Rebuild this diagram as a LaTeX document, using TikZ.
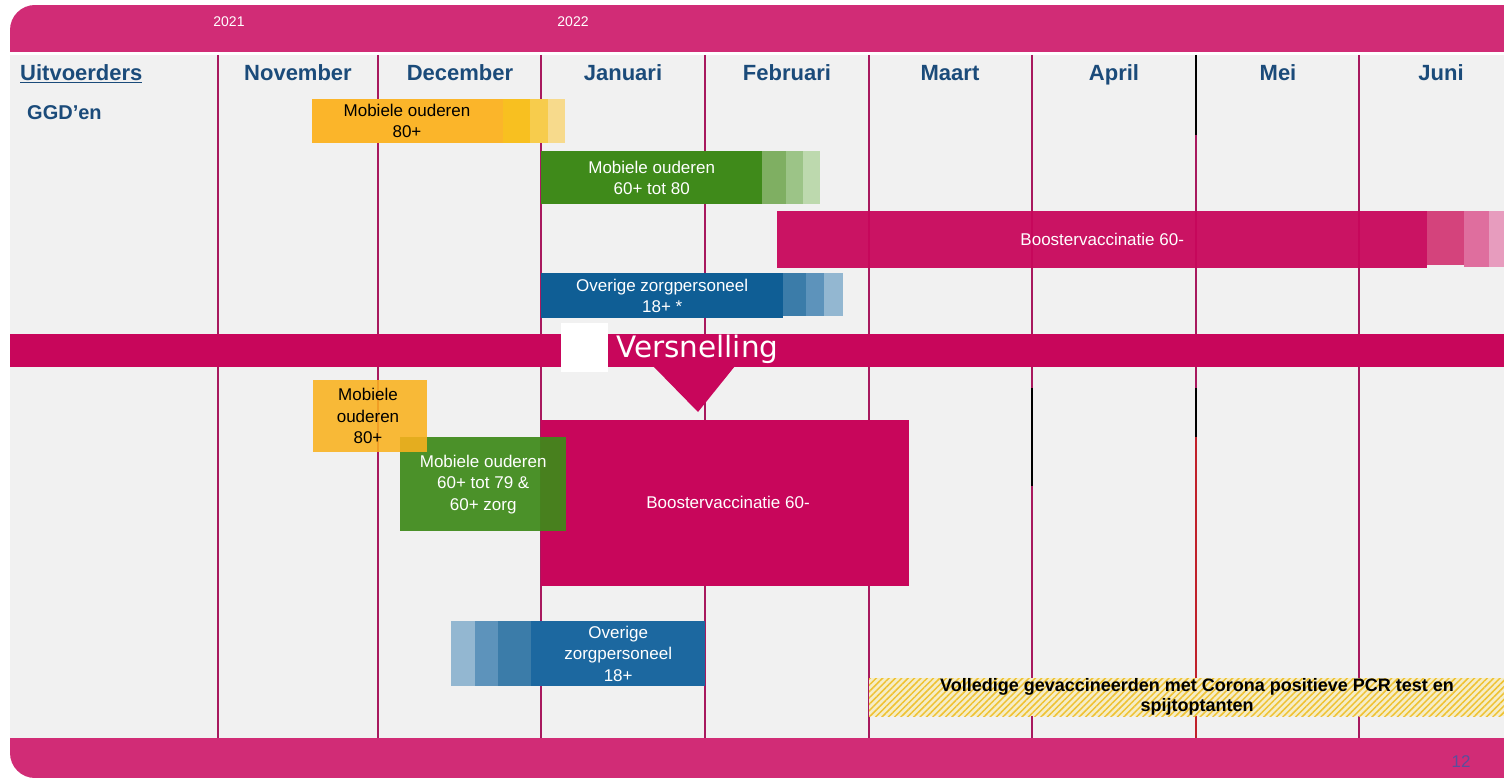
\documentclass[tikz,border=0pt]{standalone}
\usepackage{fontspec}
\setmainfont{Liberation Sans}
\newfontfamily\versfont{DejaVu Sans}
\usetikzlibrary{patterns.meta}
\definecolor{topbar}{HTML}{D12C76}
\definecolor{mag}{HTML}{C8065B}
\definecolor{vline}{HTML}{A8195E}
\definecolor{bggrey}{HTML}{F1F1F1}
\definecolor{navy}{HTML}{1B4B7A}
\definecolor{orng}{HTML}{FBB52A}
\definecolor{orngA}{HTML}{F8C020}
\definecolor{orngB}{HTML}{F7CC4C}
\definecolor{orngC}{HTML}{F7DA8C}
\definecolor{orng2}{HTML}{FAB21E}
\definecolor{grn}{HTML}{3F8A1A}
\definecolor{grnA}{HTML}{7FAF62}
\definecolor{grnB}{HTML}{9CC487}
\definecolor{grnC}{HTML}{BDD9AE}
\definecolor{blu}{HTML}{0F5E95}
\definecolor{bluA}{HTML}{3B7CA9}
\definecolor{bluB}{HTML}{5D93BB}
\definecolor{bluC}{HTML}{93B7D1}
\definecolor{lblu}{HTML}{1C68A0}
\definecolor{magA}{HTML}{D4437C}
\definecolor{magB}{HTML}{DF6E9E}
\definecolor{magC}{HTML}{E79CBE}
\definecolor{hatch}{HTML}{EFC232}
\definecolor{hatchbg}{HTML}{F5EDC8}
\definecolor{pagenum}{HTML}{5B4E9C}
\definecolor{redline}{HTML}{C0202A}
\begin{document}
\begin{tikzpicture}[x=1pt,y=-1pt,
  month/.style={font=\fontsize{22}{24}\selectfont\bfseries, text=navy, inner sep=0, anchor=base},
  bar/.style={anchor=north west, inner sep=0, align=center, font=\fontsize{17}{21.5}\selectfont},
  whitetxt/.style={text=white},
  vl/.style={draw=vline, line width=1.8pt},
]
\useasboundingbox (0,0) rectangle (1504,778);
\fill[white] (0,0) rectangle (1504,778);
\fill[bggrey] (10,55) rectangle (1504,738);
% top bar
\begin{scope}
  \clip[rounded corners=25pt] (10,5) rectangle (1700,300);
  \fill[topbar] (10,5) rectangle (1504,52);
\end{scope}
% bottom bar
\begin{scope}
  \clip[rounded corners=25pt] (10,500) rectangle (1700,778);
  \fill[topbar] (10,738) rectangle (1504,778);
\end{scope}
\node[text=white, font=\fontsize{14}{16}\selectfont, inner sep=0] (y2021) at (229,22) {2021};
\node[text=white, font=\fontsize{14}{16}\selectfont, inner sep=0] (y2022) at (573,22) {2022};
\node[text=pagenum, font=\fontsize{17}{19}\selectfont, inner sep=0] (page) at (1461,762) {12};
% vertical lines
\foreach \x in {218,378,541,705,869,1032,1196,1359}
  \draw[vl] (\x,55) -- (\x,738);
\draw[line width=1.8pt, black] (1196,55) -- (1196,135);
\draw[line width=1.8pt, black] (1032,388) -- (1032,486);
\draw[line width=1.8pt, black] (1196,388) -- (1196,437);
\draw[line width=1.8pt, redline] (1196,437) -- (1196,738);
% headers
\node[month, anchor=base west] (uitv) at (20,81) {\underline{Uitvoerders}};
\node[month, anchor=base west, font=\fontsize{20}{22}\selectfont\bfseries] (ggd) at (27,120) {GGD’en};
\node[month] (nov) at (298,81) {November};
\node[month] (dec) at (460,81) {December};
\node[month] (jan) at (623,81) {Januari};
\node[month] (feb) at (787,81) {Februari};
\node[month] (mrt) at (950,81) {Maart};
\node[month] (apr) at (1114,81) {April};
\node[month] (mei) at (1278,81) {Mei};
\node[month] (jun) at (1441,81) {Juni};
% upper orange
\fill[orngC] (530,99) rectangle (565,143);
\fill[orngB] (515,99) rectangle (548,143);
\fill[orngA] (503,99) rectangle (530,143);
\node[bar, fill=orng, minimum width=191pt, minimum height=44pt] (ob1) at (312,99) {};
\node[font=\fontsize{17}{21.5}\selectfont, align=center, inner sep=0] (ob1t) at (407,121) {Mobiele ouderen\\80+};
% upper green
\fill[grnC] (803,151) rectangle (820,204);
\fill[grnB] (786,151) rectangle (803,204);
\fill[grnA] (762,151) rectangle (786,204);
\node[bar, fill=grn, minimum width=221pt, minimum height=53pt, whitetxt] (gb1) at (541,151) {Mobiele ouderen\\60+ tot 80};
% upper booster
\fill[magC] (1489,211) rectangle (1504,267);
\fill[magB] (1464,211) rectangle (1489,267);
\fill[magA] (1427,211) rectangle (1464,265);
\node[bar, fill=mag, fill opacity=0.94, text opacity=1, minimum width=650pt, minimum height=57pt, whitetxt] (bb1) at (777,211) {Boostervaccinatie 60-};
% upper blue
\fill[bluC] (824,273) rectangle (843,316);
\fill[bluB] (806,273) rectangle (824,316);
\fill[bluA] (783,273) rectangle (806,316);
\node[bar, fill=blu, minimum width=242pt, minimum height=45pt, whitetxt] (ub1) at (541,273) {Overige zorgpersoneel\\18+ *};
% Versnelling band
\fill[mag] (10,334) rectangle (1504,367);
\fill[mag] (653,366) -- (735,366) -- (698,412) -- cycle;
\fill[white] (561,323) rectangle (608,372);
\node[anchor=west, text=white, inner sep=0, font=\versfont\fontsize{29.5}{32}\selectfont] (vers) at (616,349) {Versnelling};
% lower booster
\node[bar, fill=mag, minimum width=368pt, minimum height=166pt, whitetxt] (bb2) at (541,420) {};
\node[whitetxt, font=\fontsize{17}{21.5}\selectfont, inner sep=0] (bb2t) at (728,502) {Boostervaccinatie 60-};
% lower green
\node[bar, fill=grn, fill opacity=0.93, text opacity=1, minimum width=166pt, minimum height=94pt, whitetxt] (gb2) at (400,437) {Mobiele ouderen\\60+ tot 79 \&\\60+ zorg};
% lower orange
\node[bar, fill=orng2, fill opacity=0.88, text opacity=1, minimum width=114pt, minimum height=72pt] (ob2) at (313,380) {};
\node[font=\fontsize{17}{21.5}\selectfont, align=center, inner sep=0] (ob2t) at (368,416) {Mobiele\\ouderen\\80+};
% lower blue
\fill[bluC] (451,621) rectangle (475,686);
\fill[bluB] (475,621) rectangle (498,686);
\fill[bluA] (498,621) rectangle (531,686);
\node[bar, fill=lblu, minimum width=174pt, minimum height=65pt, whitetxt] (ub2) at (531,621) {Overige\\zorgpersoneel\\18+};
% hatched
\fill[hatchbg] (869,678) rectangle (1504,716);
\fill[pattern={Lines[angle=45,distance=4.5pt,line width=1.5pt]}, pattern color=hatch] (869,678) rectangle (1504,716);
\node[inner sep=0, align=center, font=\fontsize{18}{19.5}\selectfont\bfseries] (volledig) at (1197,697) {Volledige gevaccineerden met Corona positieve PCR test en\\spijtoptanten};
\end{tikzpicture}
\end{document}
